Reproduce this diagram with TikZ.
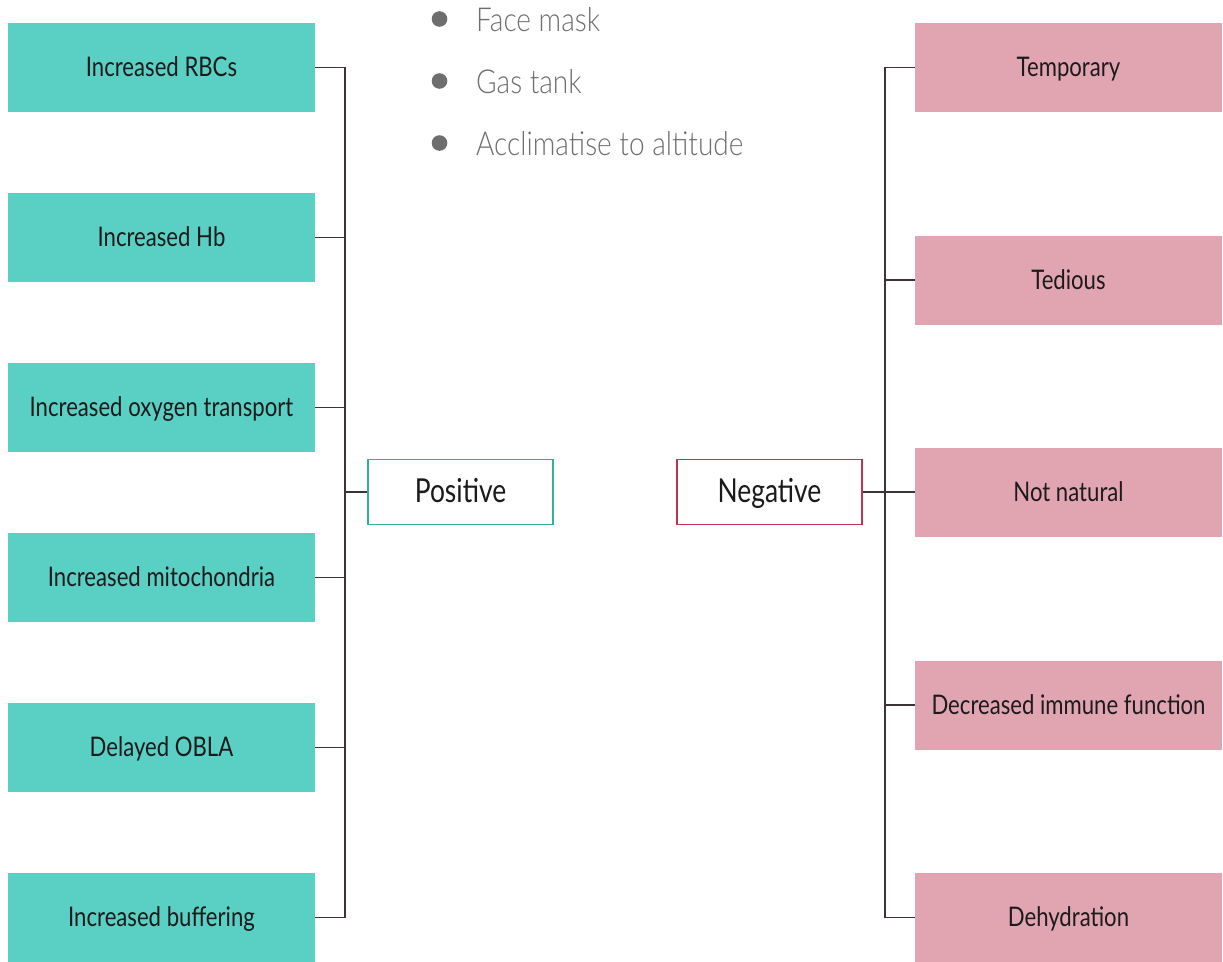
\documentclass[tikz,border=0pt]{standalone}
\usepackage{fontspec}
\setmainfont{Lato}[FakeStretch=0.82]
\newfontfamily\boxfont{Lato}[FakeStretch=0.82]
\newfontfamily\headfont{Lato}[FakeStretch=0.8]
\newfontfamily\listfont{Lato Light}[FakeStretch=0.85]
\definecolor{tealfill}{HTML}{5ACFC3}
\definecolor{tealedge}{HTML}{35AE9F}
\definecolor{pinkfill}{HTML}{E1A5B2}
\definecolor{redge}{HTML}{C0324F}
\definecolor{linkcol}{HTML}{3D3236}
\definecolor{txtcol}{HTML}{1C1A1B}
\definecolor{listcol}{HTML}{6E6E6E}
\tikzset{
  itembox/.style={rectangle, inner sep=0pt, minimum width=307pt, minimum height=89pt,
    text height=22pt, text depth=4pt,
    text=txtcol, font=\boxfont\fontsize{27}{31}\selectfont},
  posbox/.style={itembox, fill=tealfill},
  negbox/.style={itembox, fill=pinkfill},
  headbox/.style={rectangle, inner sep=0pt, minimum width=185pt, minimum height=65pt,
    text height=24pt, text depth=4pt,
    fill=white, line width=1.8pt, text=txtcol, font=\headfont\fontsize{33}{37}\selectfont},
  link/.style={draw=linkcol, line width=1.8pt},
  listitem/.style={anchor=base west, inner sep=0pt, text=listcol, font=\listfont\fontsize{33}{37}\selectfont},
  dot/.style={fill=listcol}
}
\begin{document}
\begin{tikzpicture}[x=1pt,y=-1pt]
\useasboundingbox (0,0) rectangle (1223,961);

% list of aids
\fill[dot] (439.5,19) circle (7.8);
\fill[dot] (439.5,81) circle (7.8);
\fill[dot] (439.5,143) circle (7.8);
\node[listitem] (l1) at (476,31) {Face mask};
\node[listitem] (l2) at (476,93) {Gas tank};
\node[listitem] (l3) at (476,155) {Acclimatise to altitude};

% positive side
\node[posbox] (p1) at (161.5,67.5) {Increased RBCs};
\node[posbox] (p2) at (161.5,237.5) {Increased Hb};
\node[posbox] (p3) at (161.5,407.5) {Increased oxygen transport};
\node[posbox] (p4) at (161.5,577.5) {Increased mitochondria};
\node[posbox] (p5) at (161.5,747.5) {Delayed OBLA};
\node[posbox] (p6) at (161.5,917.5) {Increased buffering};
\node[headbox, draw=tealedge] (pos) at (460.5,492) {Positive};

% negative side
\node[negbox] (n1) at (1068.5,67.5) {Temporary};
\node[negbox] (n2) at (1068.5,280) {Tedious};
\node[negbox] (n3) at (1068.5,492) {Not natural};
\node[negbox] (n4) at (1068.5,705) {Decreased immune function};
\node[negbox] (n5) at (1068.5,917.5) {Dehydration};
\node[headbox, draw=redge] (neg) at (769.5,492) {Negative};

% trunks
\coordinate (lt) at (345,0);
\coordinate (rt) at (885,0);
\draw[link] (p1.east) -- (p1.east -| lt) -- (p6.east -| lt) -- (p6.east);
\foreach \k in {p2,p3,p4,p5} \draw[link] (\k.east) -- (\k.east -| lt);
\draw[link] (pos.west) -- (pos.west -| lt);

\draw[link] (n1.west) -- (n1.west -| rt) -- (n5.west -| rt) -- (n5.west);
\foreach \k in {n2,n4} \draw[link] (\k.west) -- (\k.west -| rt);
\draw[link] (neg.east) -- (n3.west);
\end{tikzpicture}
\end{document}
